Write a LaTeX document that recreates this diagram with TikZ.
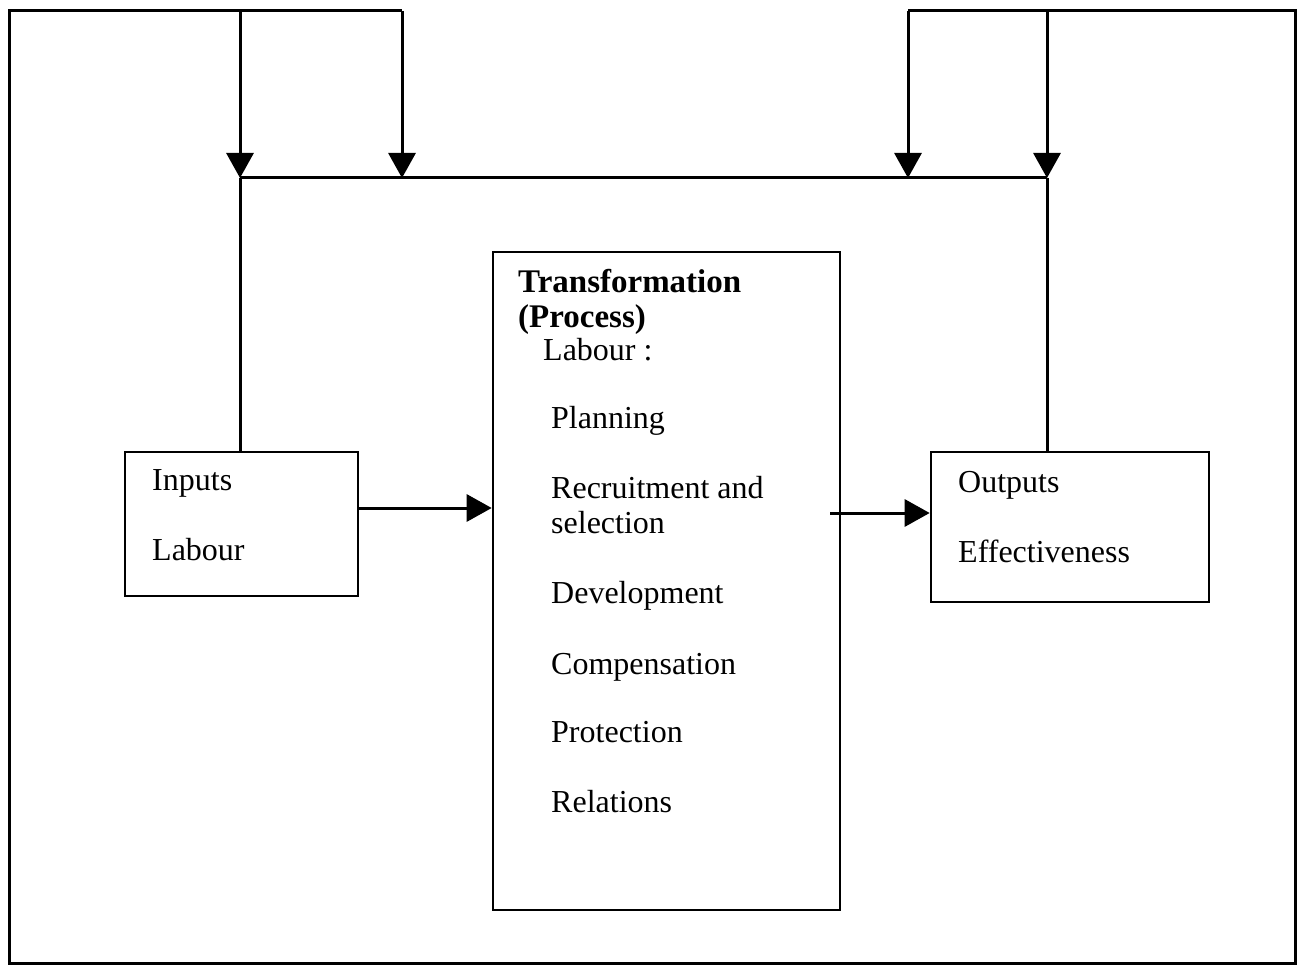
\documentclass[tikz,border=0pt]{standalone}
\usepackage{fontspec}
\setmainfont{Liberation Serif}
\usetikzlibrary{arrows.meta}
\tikzset{
  box/.style={draw=black, line width=2.6pt, rectangle, inner sep=0pt},
  flow/.style={draw=black, line width=3pt},
  arr/.style={flow, -{Triangle[width=27pt,length=25pt]}},
  lbl/.style={anchor=base west, inner sep=0pt, font=\fontsize{32}{34}\selectfont},
  hdr/.style={lbl, font=\fontsize{33}{35}\selectfont\bfseries},
}
\begin{document}
\begin{tikzpicture}[x=1pt, y=-1pt]
  \useasboundingbox (0,0) rectangle (1298,968);

  % system boxes
  \node[box, minimum width=233pt, minimum height=144pt] (inputs) at (241.5,524) {};
  \node[box, minimum width=347pt, minimum height=658pt] (trans) at (666.5,581) {};
  \node[box, minimum width=278pt, minimum height=150pt] (outputs) at (1070,527) {};

  % box texts
  \node[lbl] (tin1) at (152,490) {Inputs};
  \node[lbl] (tin2) at (152,560) {Labour};
  \node[lbl] (tout1) at (958,492) {Outputs};
  \node[lbl] (tout2) at (958,562) {Effectiveness};

  \node[hdr] (th1) at (518,293) {Transformation};
  \node[hdr] (th2) at (518,327) {(Process)};
  \node[lbl] (tl0) at (543,360) {Labour :};
  \node[lbl] (tl1) at (551,428) {Planning};
  \node[lbl] (tl2) at (551,498) {Recruitment and};
  \node[lbl] (tl3) at (551,533) {selection};
  \node[lbl] (tl4) at (551,603) {Development};
  \node[lbl] (tl5) at (551,674) {Compensation};
  \node[lbl] (tl6) at (551,742) {Protection};
  \node[lbl] (tl7) at (551,812) {Relations};

  % feedback frame corners and branch points
  \coordinate (fA) at (402,11);
  \coordinate (fTL) at (9,11);
  \coordinate (fBL) at (9,963);
  \coordinate (fBR) at (1295,963);
  \coordinate (fTR) at (1295,11);
  \coordinate (fB) at (908,11);
  \coordinate (fC) at (240,11);
  \coordinate (fD) at (1047,11);

  % junctions on the horizontal bus
  \coordinate (j1) at (240,178);
  \coordinate (j2) at (402,178);
  \coordinate (j3) at (908,178);
  \coordinate (j4) at (1047,178);

  % outer feedback loop
  \draw[flow] (fA) -- (fTL) -- (fBL) -- (fBR) -- (fTR) -- (fB);

  % arrows down onto the bus
  \draw[arr] (fC) -- (j1);
  \draw[arr] (fA) -- (j2);
  \draw[arr] (fB) -- (j3);
  \draw[arr] (fD) -- (j4);

  % bus and its drops to the boxes
  \draw[flow] (j1) -- (j4);
  \draw[flow] (j1) -- (j1 |- inputs.north);
  \draw[flow] (j4) -- (j4 |- outputs.north);

  % main flow
  \coordinate (a1) at (inputs.east |- 0,508);
  \draw[arr] (a1) -- (trans.west |- a1);
  \coordinate (a2) at (830,513);
  \draw[arr] (a2) -- (outputs.west |- a2);
\end{tikzpicture}
\end{document}
